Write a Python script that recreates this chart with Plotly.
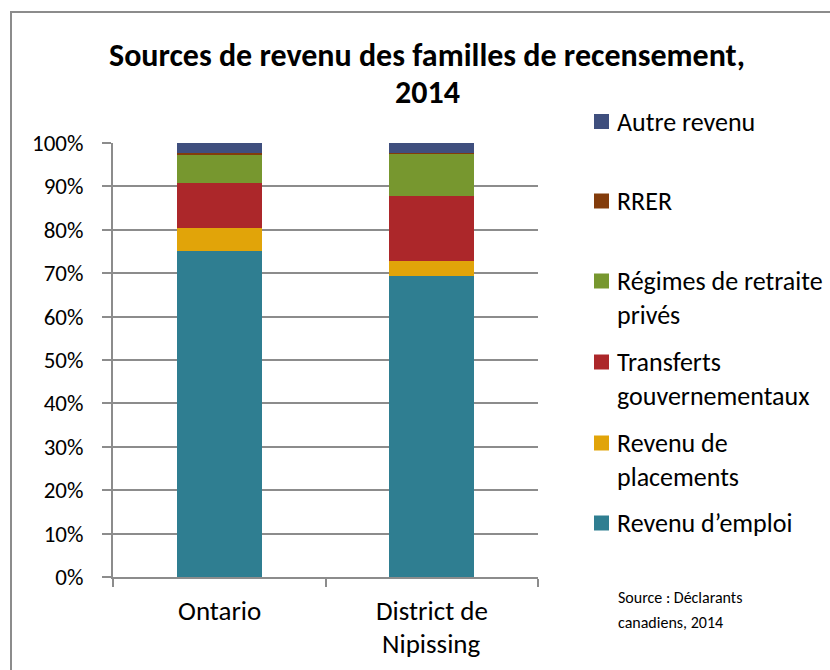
import textwrap
import plotly.graph_objects as go

# ---- data ----
categories = ["Ontario", "District de Nipissing"]
series_names = ["Revenu d’emploi", "Revenu de placements", "Transferts gouvernementaux",
                "Régimes de retraite privés", "RRER", "Autre revenu"]
emploi = [75.2, 69.4]
placements = [5.2, 3.4]
transferts = [10.4, 15.0]
regimes = [6.5, 9.7]
rrer = [0.4, 0.2]
autre = [2.3, 2.3]
series_values = [emploi, placements, transferts, regimes, rrer, autre]
colors = ["#2F7E91", "#E1A409", "#AC272A", "#77972F", "#833C0B", "#3F4F7E"]
y_ticks = list(range(0, 101, 10))
y_tick_labels = [f"{v}%" for v in y_ticks]
title_lines = ["Sources de revenu des familles de recensement,", "2014"]
source_lines = ["Source : Déclarants", "canadiens, 2014"]

# ---- layout geometry (pixels) ----
W, H = 830, 670
L, R, T, B = 113, 538, 143, 577
PW, PH = R - L, B - T
def px(x):
    return (x - L) / PW
def py(y):
    return (B - y) / PH

FONT = "Carlito, Calibri, Lato, sans-serif"
GRID = "#8C8C8C"

fig = go.Figure()
for name, vals, col in zip(series_names, series_values, colors):
    fig.add_trace(go.Bar(x=categories, y=vals, name=name, marker_color=col,
                         marker_line_width=0, showlegend=False))

annotations = []
shapes = []

# title (two lines)
for i, line in enumerate(title_lines):
    annotations.append(dict(x=px(427), xref="paper", y=py(55 + 38 * i), yref="paper",
                            text=f"<b>{line}</b>", showarrow=False, xanchor="center",
                            yanchor="middle",
                            font=dict(family=FONT, size=32, color="#000")))

# x category labels (wrapped)
for cat in categories:
    lines = textwrap.wrap(cat, 12)
    for i, line in enumerate(lines):
        annotations.append(dict(x=cat, xref="x", y=py(610 + 33 * i), yref="paper",
                                text=line, showarrow=False, xanchor="center", yanchor="middle",
                                font=dict(family=FONT, size=27, color="#000")))

# manual legend (reverse order)
leg_y = [121.5, 201, 281, 362, 443, 523]
for k, idx in enumerate(reversed(range(len(series_names)))):
    y0 = leg_y[k]
    shapes.append(dict(type="rect", xref="paper", yref="paper",
                       x0=px(594), x1=px(609), y0=py(y0 - 7.5), y1=py(y0 + 7.5),
                       fillcolor=colors[idx], line=dict(width=0)))
    for i, line in enumerate(textwrap.wrap(series_names[idx], 19)):
        annotations.append(dict(x=px(615), xref="paper", y=py(y0 + 34 * i), yref="paper",
                                text=line, showarrow=False, xanchor="left", yanchor="middle",
                                font=dict(family=FONT, size=26, color="#000")))

# source note
for i, line in enumerate(source_lines):
    annotations.append(dict(x=px(616), xref="paper", y=py(597 + 25 * i), yref="paper",
                            text=line, showarrow=False, xanchor="left", yanchor="middle",
                            font=dict(family=FONT, size=16, color="#000")))

# outer border
shapes.append(dict(type="rect", xref="paper", yref="paper",
                   x0=px(11), x1=px(W + 50), y0=py(H + 50), y1=py(12),
                   line=dict(color="#8C8C8C", width=2), fillcolor="rgba(0,0,0,0)", layer="below"))

fig.update_layout(
    width=W, height=H,
    margin=dict(l=L, r=W - R, t=T, b=H - B, pad=0),
    barmode="stack", bargap=0.6,
    plot_bgcolor="white", paper_bgcolor="white",
    font=dict(family=FONT, color="#000"),
    xaxis=dict(showticklabels=False, showline=True, linecolor=GRID, linewidth=2,
               ticks="outside", tickson="boundaries", ticklen=8, tickcolor=GRID, tickwidth=2,
               showgrid=False, fixedrange=True),
    yaxis=dict(range=[0, 100], tickmode="array", tickvals=y_ticks, ticktext=y_tick_labels,
               showline=True, linecolor=GRID, linewidth=2, ticks="outside", ticklen=9,
               tickcolor=GRID, tickwidth=2, showgrid=True, gridcolor=GRID, gridwidth=2,
               zeroline=False, ticklabelstandoff=14,
               tickfont=dict(family=FONT, size=23, color="#000")),
    annotations=annotations, shapes=shapes,
)

fig.write_html("out.html", config={"displayModeBar": False},
               post_script="document.body.style.margin='0';")
